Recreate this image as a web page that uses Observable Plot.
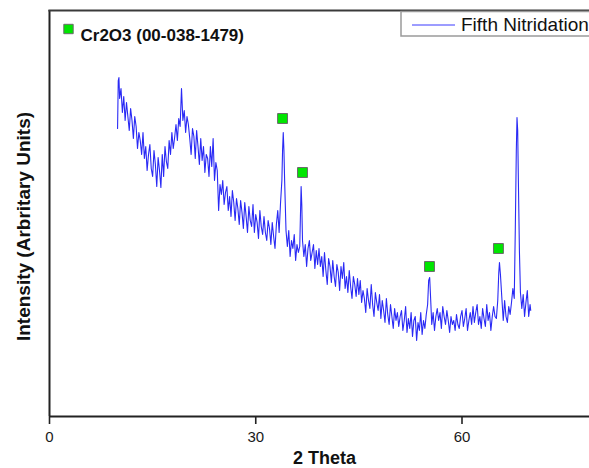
<!DOCTYPE html>
<html><head><meta charset="utf-8">
<script src="https://cdn.jsdelivr.net/npm/d3@7"></script>
<script src="https://cdn.jsdelivr.net/npm/@observablehq/plot@0.6"></script>
<style>
html,body{margin:0;padding:0;background:#fff;}
#chart{width:589px;height:468px;overflow:hidden;}
</style></head><body><div id="chart"></div>
<script>
// ---- data ----
const twoTheta = [
  9.9,10.0,10.1,10.2,10.4,10.6,10.8,11.0,11.2,11.4,11.6,11.8,12.0,12.2,12.4,12.6,12.8,13.0,
  13.2,13.4,13.6,13.8,14.0,14.2,14.4,14.6,14.8,15.0,15.2,15.4,15.6,15.8,16.0,
  16.2,16.4,16.6,16.8,17.0,17.2,17.4,17.6,17.8,18.0,18.2,18.4,18.6,18.8,19.0,
  19.2,19.4,19.6,19.8,20.0,20.2,20.4,20.6,20.8,21.0,21.2,21.4,21.6,21.8,22.0,
  22.2,22.4,22.6,22.8,23.0,23.2,23.4,23.6,23.8,24.0,24.2,24.4,24.6,24.8,25.0,
  25.2,25.4,25.6,25.8,26.0,26.2,26.4,26.6,26.8,27.0,27.2,27.4,27.6,27.8,28.0,
  28.2,28.4,28.6,28.8,29.0,29.2,29.4,29.6,29.8,30.0,30.2,30.4,30.6,30.8,31.0,
  31.2,31.4,31.6,31.8,32.0,32.2,32.4,32.6,32.8,33.0,33.2,33.4,33.6,33.8,33.9,34.0,
  34.1,34.2,34.4,34.6,34.8,35.0,35.2,35.4,35.6,35.8,36.0,36.2,36.4,
  36.5,36.6,36.7,36.8,37.0,37.2,37.4,37.6,37.8,38.0,38.2,38.4,38.6,38.8,39.0,
  39.2,39.4,39.6,39.8,40.0,40.2,40.4,40.6,40.8,41.0,41.2,41.4,41.6,41.8,42.0,
  42.2,42.4,42.6,42.8,43.0,43.2,43.4,43.6,43.8,44.0,44.2,44.4,44.6,44.8,45.0,
  45.2,45.4,45.6,45.8,46.0,46.2,46.4,46.6,46.8,47.0,47.2,47.4,47.6,47.8,48.0,
  48.2,48.4,48.6,48.8,49.0,49.2,49.4,49.6,49.8,50.0,50.2,50.4,50.6,50.8,51.0,
  51.2,51.4,51.6,51.8,52.0,52.2,52.4,52.6,52.8,53.0,53.2,53.4,53.6,53.8,54.0,
  54.2,54.4,54.6,54.8,55.0,55.15,55.3,55.45,55.6,
  55.8,56.0,56.2,56.4,56.6,56.8,57.0,57.2,57.4,57.6,57.8,58.0,58.2,58.4,58.6,
  58.8,59.0,59.2,59.4,59.6,59.8,60.0,60.2,60.4,60.6,60.8,61.0,61.2,61.4,61.6,
  61.8,62.0,62.2,62.4,62.6,62.8,63.0,63.2,63.4,63.6,63.8,64.0,64.2,64.4,64.6,
  64.8,65.0,65.2,65.35,65.45,65.6,65.8,
  66.0,66.2,66.4,66.6,66.8,67.0,67.2,67.4,67.6,
  67.75,67.9,68.0,68.1,68.2,68.35,68.5,68.7,68.9,69.1,69.3,69.5,69.7,69.9,70.0
];
const intensity = [
  288,336,339,318,328,304,320,296,314,300,286,308,296,278,300,290,268,284,
  276,262,284,258,270,246,262,272,248,240,266,252,230,259,246,
  229,262,240,270,255,248,276,262,284,268,279,292,276,298,290,
  328,296,306,284,300,292,278,262,288,280,258,286,270,252,278,
  256,270,244,262,258,240,270,250,278,236,254,246,206,232,222,
  236,212,224,230,206,220,200,226,214,196,218,208,192,216,204,
  188,214,200,184,210,196,190,212,184,202,194,178,206,190,182,
  200,184,176,196,188,172,194,180,168,192,206,184,213,236,266,284,
  266,236,186,170,186,160,176,168,182,156,172,164,170,
  201,230,211,176,160,172,150,168,176,156,164,172,148,166,152,
  168,150,160,140,164,146,132,158,150,134,156,140,130,152,144,
  126,150,138,154,128,140,124,146,130,118,140,132,120,138,122,
  136,114,126,118,104,128,116,108,132,112,100,124,114,106,122,
  98,116,106,94,118,102,92,112,100,88,108,96,104,90,100,
  106,86,96,110,84,98,88,104,80,96,100,76,94,86,104,
  82,96,88,102,112,136,139,116,92,
  104,86,100,108,96,104,88,110,100,92,106,96,84,100,92,
  96,86,102,92,88,100,106,90,98,108,86,96,104,92,110,
  94,104,112,92,100,88,108,98,90,112,96,104,86,100,110,
  100,98,116,144,154,141,118,
  96,116,100,94,110,102,114,128,118,
  186,266,299,286,236,166,124,108,122,100,114,126,100,112,106
];
// Cr2O3 reference marks (2 theta, marker height)
const peakTheta = [33.9, 36.8, 55.27, 65.3];
const peakIntensity = [298, 244, 150, 168];
const xTicks = [0, 30, 60];
const xDomain = [0, 80];
const yDomain = [0, 406];
const xLabel = "2 Theta";
const yLabel = "Intensity (Arbritary Units)";
const seriesName = "Fifth Nitridation";
const phaseName = "Cr2O3 (00-038-1479)";

const data = twoTheta.map((t, i) => ({t, v: intensity[i]}));
const peaks = peakTheta.map((t, i) => ({t, v: peakIntensity[i]}));
const font = "'Liberation Sans', Arial, Helvetica, sans-serif";

const plot = Plot.plot({
  width: 589, height: 468,
  marginLeft: 49, marginRight: 0, marginTop: 10, marginBottom: 52,
  style: {fontFamily: font, background: "#fff", color: "#1a1a1a", overflow: "hidden"},
  x: {domain: xDomain, range: [49, 599]},
  y: {domain: yDomain, axis: null},
  marks: [
    Plot.line(data, {x: "t", y: "v", stroke: "#2a2af5", strokeWidth: 1.1}),
    Plot.dot(peaks, {x: "t", y: "v", symbol: "square", r: 5.6, fill: "#00e600", stroke: "#6a6a6a", strokeWidth: 1}),
    Plot.ruleY([0], {stroke: "#222", strokeWidth: 2}),
    Plot.ruleX([0], {stroke: "#222", strokeWidth: 2}),
    Plot.frame({anchor: "top", stroke: "#3a3a3a", strokeWidth: 2.2}),
    Plot.axisX({ticks: xTicks, tickSize: 8, tickPadding: 7, fontSize: 15, stroke: "#222", strokeWidth: 1.6, label: null, tickFormat: d => String(d)}),
    Plot.text([xLabel], {x: () => (xDomain[0] + xDomain[1]) / 2, frameAnchor: "bottom", dy: 47, text: d => d, fontWeight: "bold", fontSize: 18, fill: "#111"}),
    Plot.text([yLabel], {frameAnchor: "left", textAnchor: "middle", rotate: -90, dx: -26, dy: 13, text: d => d, fontWeight: "bold", fontSize: 19, fill: "#111"}),
    Plot.dot([phaseName], {frameAnchor: "top-left", dx: 19, dy: 18.5, symbol: "square", r: 5.3, fill: "#00e600", stroke: "#6a6a6a", strokeWidth: 1}),
    Plot.text([phaseName], {frameAnchor: "top-left", dx: 31, dy: 18, textAnchor: "start", text: d => d, fontWeight: "bold", fontSize: 17, fill: "#111"})
  ]
});

const svg = d3.select(plot);
const g = svg.append("g");
g.append("rect").attr("x", 401).attr("y", 11.5).attr("width", 220).attr("height", 24.5)
  .attr("fill", "#fff").attr("stroke", "#9a9a9a").attr("stroke-width", 1.5);
g.append("line").attr("x1", 412).attr("x2", 455).attr("y1", 25).attr("y2", 25)
  .attr("stroke", "#3a3aff").attr("stroke-width", 1);
g.append("text").attr("x", 461).attr("y", 31)
  .style("font-size", "19px").style("font-family", font).style("text-anchor", "start")
  .attr("fill", "#111").text(seriesName);

document.getElementById("chart").appendChild(plot);
</script>
</body></html>
